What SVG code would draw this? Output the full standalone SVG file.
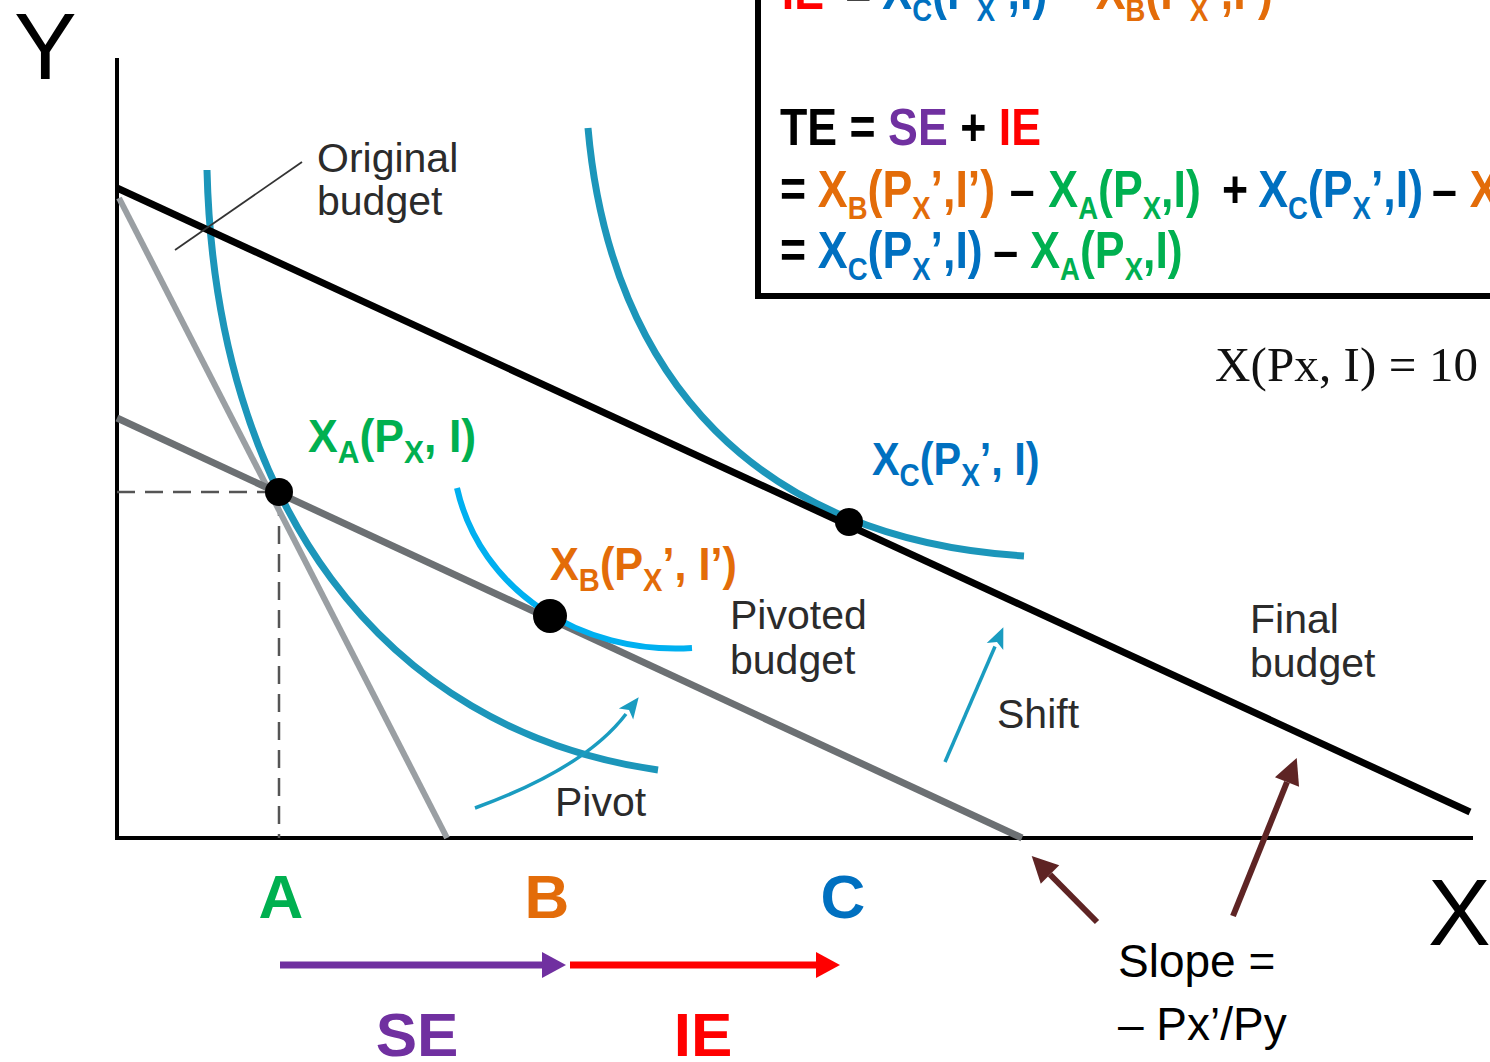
<svg xmlns="http://www.w3.org/2000/svg" width="1490" height="1062" viewBox="0 0 1490 1062">
<style>
.lbl{font-family:"Liberation Sans",Arial,sans-serif;font-size:41px;fill:#2b2b2b}
.eq{font-family:"Liberation Sans",Arial,sans-serif;font-weight:bold;font-size:52px}
.eq .s{font-size:32px}
.pt{font-family:"Liberation Sans",Arial,sans-serif;font-weight:bold;font-size:46px}
.pt .s{font-size:31px}
.big{font-family:"Liberation Sans",Arial,sans-serif;font-size:94px;fill:#000}
.abc{font-family:"Liberation Sans",Arial,sans-serif;font-weight:bold;font-size:62px;text-anchor:middle}
.calib{font-family:"Liberation Sans",Arial,sans-serif;font-size:46px;fill:#000}
.ic{fill:none;stroke:#1c96ba;stroke-width:7;stroke-linecap:butt}
</style>
<defs>
<marker id="mTeal" markerUnits="userSpaceOnUse" markerWidth="24" markerHeight="20" refX="0" refY="9" orient="auto" overflow="visible">
<path d="M0,0 L21,9 L0,18 L5,9 z" fill="#1a9cc0"/>
</marker>
<marker id="mMaroon" markerUnits="userSpaceOnUse" markerWidth="28" markerHeight="28" refX="0" refY="13" orient="auto" overflow="visible">
<path d="M0,0 L26,13 L0,26 z" fill="#5e2424"/>
</marker>
<marker id="mPurple" markerUnits="userSpaceOnUse" markerWidth="26" markerHeight="28" refX="0" refY="13" orient="auto" overflow="visible">
<path d="M0,0 L24,13 L0,26 z" fill="#7030a0"/>
</marker>
<marker id="mRed" markerUnits="userSpaceOnUse" markerWidth="26" markerHeight="28" refX="0" refY="13" orient="auto" overflow="visible">
<path d="M0,0 L24,13 L0,26 z" fill="#ff0000"/>
</marker>
</defs>
<rect width="1490" height="1062" fill="#ffffff"/>

<g id="axes">
<line x1="117" y1="58" x2="117" y2="840" stroke="#000" stroke-width="4"/>
<line x1="115" y1="838" x2="1473" y2="838" stroke="#000" stroke-width="4"/>
<text class="big" x="14" y="79">Y</text>
<text class="big" x="1428" y="945">X</text>
</g>

<g id="guides">
<path d="M117,492 H279 V838" fill="none" stroke="#555" stroke-width="2.5" stroke-dasharray="18,10"/>
</g>

<g id="budget-original">
<line x1="119" y1="198" x2="447" y2="838" stroke="#9a9fa3" stroke-width="6"/>
</g>
<g id="budget-pivoted">
<line x1="117" y1="418" x2="1022" y2="838" stroke="#6c7073" stroke-width="7"/>
</g>

<g id="indifference-curves">
<path id="ic-a" class="ic" d="M207,170 C215,500 380,730 658,770"/>
<path id="ic-b" d="M457,488 C480,590 580,655 692,648" fill="none" stroke="#00b0f0" stroke-width="6"/>
<path id="ic-c" class="ic" d="M588,128 C610,380 760,540 1024,556"/>
</g>

<g id="budget-final">
<line x1="117" y1="188" x2="1470" y2="812" stroke="#000" stroke-width="7"/>
</g>

<g id="points">
<circle id="pt-a" cx="279" cy="492" r="14" fill="#000"/>
<circle id="pt-b" cx="550" cy="616" r="17" fill="#000"/>
<circle id="pt-c" cx="849" cy="522" r="14" fill="#000"/>
</g>

<g id="connectors">
<line x1="175" y1="250" x2="302" y2="162" stroke="#333" stroke-width="1.8"/>
<path d="M475,808 Q585,768 626,714" fill="none" stroke="#1a9cc0" stroke-width="3.5" marker-end="url(#mTeal)"/>
<line x1="945" y1="762" x2="995" y2="646.5" stroke="#1a9cc0" stroke-width="3.5" marker-end="url(#mTeal)"/>
<line x1="1097" y1="922" x2="1050" y2="874.5" stroke="#5e2424" stroke-width="6" marker-end="url(#mMaroon)"/>
<line x1="1233" y1="916" x2="1287" y2="782" stroke="#5e2424" stroke-width="6" marker-end="url(#mMaroon)"/>
<line x1="280" y1="965" x2="542" y2="965" stroke="#7030a0" stroke-width="7" marker-end="url(#mPurple)"/>
<line x1="570" y1="965" x2="816" y2="965" stroke="#ff0000" stroke-width="7" marker-end="url(#mRed)"/>
</g>

<g id="label-original">
<text class="lbl" x="317" y="172">Original</text>
<text class="lbl" x="317" y="215">budget</text>
</g>
<g id="label-pivoted">
<text class="lbl" x="730" y="629">Pivoted</text>
<text class="lbl" x="730" y="674">budget</text>
</g>
<g id="label-final">
<text class="lbl" x="1250" y="633">Final</text>
<text class="lbl" x="1250" y="677">budget</text>
</g>
<g id="label-pivot"><text class="lbl" x="555" y="816">Pivot</text></g>
<g id="label-shift"><text class="lbl" x="997" y="728">Shift</text></g>

<g id="label-xa"><text class="pt" fill="#00b050" transform="translate(308,452) scale(0.97,1)">X<tspan class="s" dy="11">A</tspan><tspan dy="-11">(P</tspan><tspan class="s" dy="11">X</tspan><tspan dy="-11">, I)</tspan></text></g>
<g id="label-xb"><text class="pt" fill="#e36c09" transform="translate(550,580) scale(0.94,1)">X<tspan class="s" dy="11">B</tspan><tspan dy="-11">(P</tspan><tspan class="s" dy="11">X</tspan><tspan dy="-11">’, I’)</tspan></text></g>
<g id="label-xc"><text class="pt" fill="#0070c0" transform="translate(872,475) scale(0.9,1)">X<tspan class="s" dy="11">C</tspan><tspan dy="-11">(P</tspan><tspan class="s" dy="11">X</tspan><tspan dy="-11">’, I)</tspan></text></g>

<g id="label-abc">
<text class="abc" x="281" y="918" fill="#00b050">A</text>
<text class="abc" x="547" y="918" fill="#e36c09">B</text>
<text class="abc" x="843" y="918" fill="#0070c0">C</text>
<text class="abc" x="417" y="1056" fill="#7030a0" font-size="60">SE</text>
<text class="abc" x="703" y="1056" fill="#ff0000" font-size="60">IE</text>
</g>

<g id="label-slope">
<text class="calib" x="1118" y="977">Slope =</text>
<text class="calib" x="1118" y="1040">– Px’/Py</text>
</g>

<g id="label-demand">
<text x="1215" y="381" font-family="Liberation Serif,'Times New Roman',serif" font-size="49" fill="#111" textLength="263" lengthAdjust="spacing">X(Px, I) = 10</text>
</g>

<g id="equation-box">
<path d="M758,0 V296 H1490" fill="none" stroke="#000" stroke-width="6"/>
<g class="eq" transform="scale(0.86,1)">
<text y="9"><tspan x="909" fill="#ff0000">IE</tspan><tspan x="983" fill="#000">=</tspan><tspan x="1026" fill="#0070c0">X<tspan class="s" dy="12">C</tspan><tspan dy="-12">(P</tspan><tspan class="s" dy="12">X</tspan><tspan dy="-12">’,I)</tspan></tspan><tspan x="1235" fill="#000">–</tspan><tspan x="1274" fill="#e36c09">X<tspan class="s" dy="12">B</tspan><tspan dy="-12">(P</tspan><tspan class="s" dy="12">X</tspan><tspan dy="-12">’,I’)</tspan></tspan></text>
<text x="907" y="145"><tspan fill="#000">TE = </tspan><tspan fill="#7030a0">SE</tspan><tspan fill="#000"> + </tspan><tspan fill="#ff0000">IE</tspan></text>
<text y="207"><tspan x="907" fill="#000">=</tspan><tspan x="951" fill="#e36c09">X<tspan class="s" dy="12">B</tspan><tspan dy="-12">(P</tspan><tspan class="s" dy="12">X</tspan><tspan dy="-12">’,I’)</tspan></tspan><tspan x="1174" fill="#000">–</tspan><tspan x="1219" fill="#00b050">X<tspan class="s" dy="12">A</tspan><tspan dy="-12">(P</tspan><tspan class="s" dy="12">X</tspan><tspan dy="-12">,I)</tspan></tspan><tspan x="1421" fill="#000">+</tspan><tspan x="1463" fill="#0070c0">X<tspan class="s" dy="12">C</tspan><tspan dy="-12">(P</tspan><tspan class="s" dy="12">X</tspan><tspan dy="-12">’,I)</tspan></tspan><tspan x="1665" fill="#000">–</tspan><tspan x="1709" fill="#e36c09">X</tspan></text>
<text y="268"><tspan x="907" fill="#000">=</tspan><tspan x="951" fill="#0070c0">X<tspan class="s" dy="12">C</tspan><tspan dy="-12">(P</tspan><tspan class="s" dy="12">X</tspan><tspan dy="-12">’,I)</tspan></tspan><tspan x="1155" fill="#000">–</tspan><tspan x="1198" fill="#00b050">X<tspan class="s" dy="12">A</tspan><tspan dy="-12">(P</tspan><tspan class="s" dy="12">X</tspan><tspan dy="-12">,I)</tspan></tspan></text>
</g>
</g>
</svg>
